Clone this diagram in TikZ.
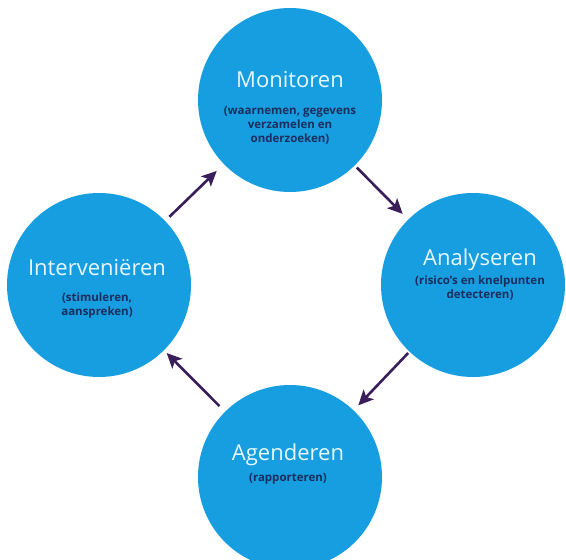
\documentclass[tikz,border=0pt]{standalone}
\usepackage{fontspec}
\setmainfont{Open Sans}
\usetikzlibrary{arrows.meta}
\definecolor{circblue}{RGB}{22,158,224}
\definecolor{titlecol}{RGB}{230,247,255}
\definecolor{subcol}{RGB}{27,45,92}
\definecolor{arrcol}{RGB}{58,30,90}
\tikzset{
  circ/.style={circle, fill=circblue, minimum size=184pt, inner sep=0pt, outer sep=0pt},
  ttl/.style={text=titlecol, font=\fontsize{22}{26}\selectfont, inner sep=0pt},
  sub/.style={text=subcol, font=\bfseries\fontsize{11.5}{14}\selectfont, align=center, inner sep=0pt},
  arr/.style={draw=arrcol, line width=2.6pt, -{Stealth[length=15pt,width=14pt,inset=3.5pt]}}
}
\begin{document}
\begin{tikzpicture}[x=1pt,y=-1pt]
\useasboundingbox (0,0) rectangle (566,560);
\clip (0,0) rectangle (566,560);
\fill[white] (0,0) rectangle (566,560);
\node[circ] (mon) at (290,100) {};
\node[circ] (ana) at (473,285) {};
\node[circ] (int) at (99,285) {};
\node[circ] (age) at (290,477) {};
\node[ttl] (tmon) at (290,80) {Monitoren};
\node[sub] (smon) at (290,125) {(waarnemen, gegevens\\verzamelen en\\onderzoeken)};
\node[ttl] (tana) at (480,260) {Analyseren};
\node[sub] (sana) at (480,288) {(risico's en knelpunten\\detecteren)};
\node[ttl] (tint) at (97,268) {Interveniëren};
\node[sub] (sint) at (97,306) {(stimuleren,\\aanspreken)};
\node[ttl] (tage) at (288,455) {Agenderen};
\node[sub] (sage) at (288,479) {(rapporteren)};
\draw[arr, shorten <=6pt, shorten >=10pt] (int) -- (mon);
\draw[arr, shorten <=3pt, shorten >=8pt] (mon) -- (ana);
\draw[arr, shorten <=2pt, shorten >=7pt] (ana) -- (age);
\draw[arr, shorten <=8pt, shorten >=4pt] (age) -- (int);
\end{tikzpicture}
\end{document}
